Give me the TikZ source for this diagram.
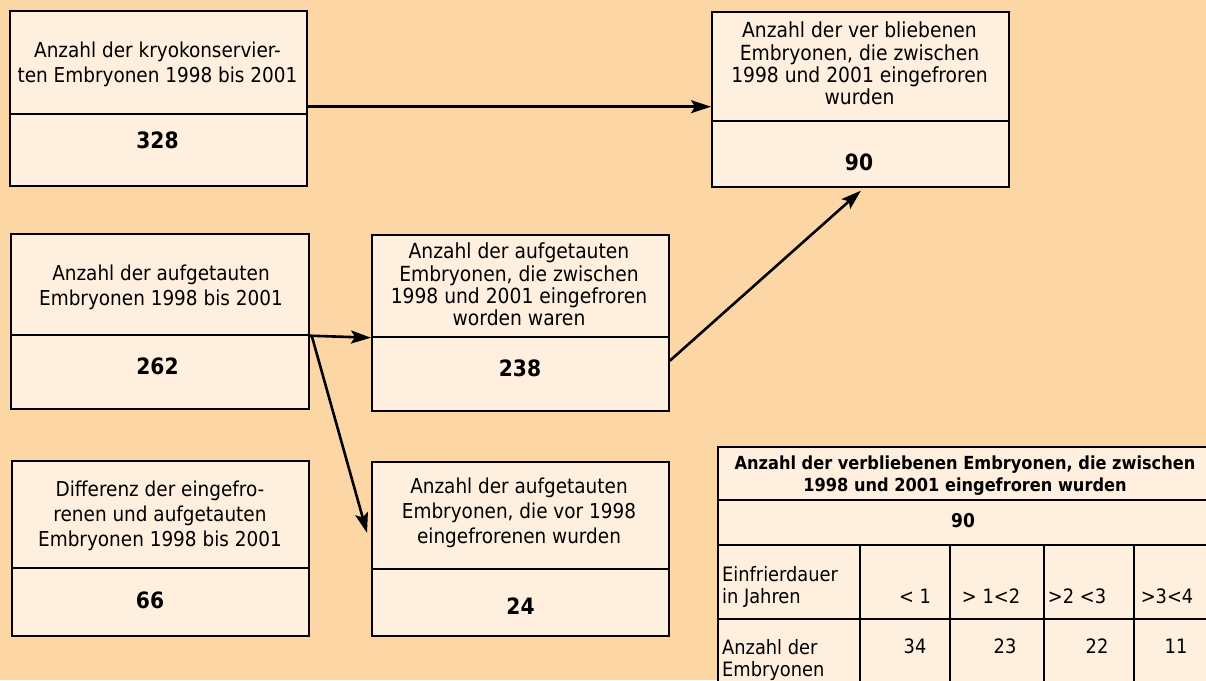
\documentclass[tikz,border=0pt]{standalone}
\usepackage{fontspec}
\setmainfont{DejaVu Sans Condensed}
\usetikzlibrary{arrows.meta,calc}
\definecolor{bgpeach}{RGB}{252,214,165}
\definecolor{boxfill}{RGB}{255,239,222}
\begin{document}
\begin{tikzpicture}[x=1pt,y=-1pt,
  boxpart/.style={draw=black, line width=1.7pt, fill=boxfill, inner sep=0pt, anchor=north west},
  txt/.style={inner sep=0pt, align=center, font=\fontsize{20.5}{25}\selectfont},
  txtf/.style={inner sep=0pt, align=center, font=\fontsize{20.8}{22.3}\selectfont},
  num/.style={inner sep=0pt, font=\bfseries\fontsize{22.5}{24}\selectfont},
  cell/.style={draw=black, line width=1.7pt, fill=boxfill, inner sep=0pt, anchor=north west},
  ctxt/.style={inner sep=0pt, font=\fontsize{19.8}{21.5}\selectfont},
  conn/.style={draw=black, line width=2.6pt, -{Stealth[length=20pt,width=13pt,inset=4pt]}}]
\useasboundingbox (0,0) rectangle (1206,680);
\fill[bgpeach] (0,0) rectangle (1206,680);
\clip (0,0) rectangle (1206,680);

% box 1
\node[boxpart, minimum width=297pt, minimum height=103pt] (b1top) at (9,10) {};
\node[boxpart, minimum width=297pt, minimum height=72pt] (b1bot) at (9,113) {};
\node[txt] (t1) at (157.5,64.1) {Anzahl der kryokonservier-\\ten Embryonen 1998 bis 2001};
\node[num] (n1) at (157.5,140.5) {328};

% box 2
\node[boxpart, minimum width=297pt, minimum height=109pt] (b2top) at (711,11) {};
\node[boxpart, minimum width=297pt, minimum height=66pt] (b2bot) at (711,120) {};
\node[txtf] (t2) at (859.5,63.5) {Anzahl der ver bliebenen\\Embryonen, die zwischen\\1998 und 2001 eingefroren\\wurden};
\node[num] (n2) at (859,162) {90};

% box 3
\node[boxpart, minimum width=298pt, minimum height=101pt] (b3top) at (10,233) {};
\node[boxpart, minimum width=298pt, minimum height=74pt] (b3bot) at (10,334) {};
\node[txt] (t3) at (161,287.1) {Anzahl der aufgetauten\\Embryonen 1998 bis 2001};
\node[num] (n3) at (157.5,366) {262};

% box 4
\node[boxpart, minimum width=297pt, minimum height=102pt] (b4top) at (371,234) {};
\node[boxpart, minimum width=297pt, minimum height=74pt] (b4bot) at (371,336) {};
\node[txtf] (t4) at (519,284.5) {Anzahl der aufgetauten\\Embryonen, die zwischen\\1998 und 2001 eingefroren\\worden waren};
\node[num] (n4) at (520,368) {238};

% box 5
\node[boxpart, minimum width=297pt, minimum height=107pt] (b5top) at (11,460) {};
\node[boxpart, minimum width=297pt, minimum height=68pt] (b5bot) at (11,567) {};
\node[txt] (t5) at (160,515.6) {Differenz der eingefro-\\renen und aufgetauten\\Embryonen 1998 bis 2001};
\node[num] (n5) at (150,600) {66};

% box 6
\node[boxpart, minimum width=297pt, minimum height=107pt] (b6top) at (371,461) {};
\node[boxpart, minimum width=297pt, minimum height=67pt] (b6bot) at (371,568) {};
\node[txt] (t6) at (519,513.1) {Anzahl der aufgetauten\\Embryonen, die vor 1998\\eingefrorenen wurden};
\node[num] (n6) at (520.5,606) {24};

% table
\node[cell, minimum width=500pt, minimum height=53pt] (thead) at (717,446) {};
\node[cell, minimum width=500pt, minimum height=45pt] (tnum) at (717,499) {};
\node[cell, minimum width=142pt, minimum height=74pt] (c30) at (717,544) {};
\node[cell, minimum width=90pt, minimum height=74pt] (c31) at (859,544) {};
\node[cell, minimum width=94pt, minimum height=74pt] (c32) at (949,544) {};
\node[cell, minimum width=90pt, minimum height=74pt] (c33) at (1043,544) {};
\node[cell, minimum width=84pt, minimum height=74pt] (c34) at (1133,544) {};
\node[cell, minimum width=142pt, minimum height=76pt] (c40) at (717,618) {};
\node[cell, minimum width=90pt, minimum height=76pt] (c41) at (859,618) {};
\node[cell, minimum width=94pt, minimum height=76pt] (c42) at (949,618) {};
\node[cell, minimum width=90pt, minimum height=76pt] (c43) at (1043,618) {};
\node[cell, minimum width=84pt, minimum height=76pt] (c44) at (1133,618) {};

\node[inner sep=0pt, align=center, font=\bfseries\fontsize{18}{22}\selectfont] (th) at (965,475.3) {Anzahl der verbliebenen Embryonen, die zwischen\\1998 und 2001 eingefroren wurden};
\node[inner sep=0pt, font=\bfseries\fontsize{19}{22}\selectfont] (tn) at (963,521) {90};
\node[ctxt, align=left, anchor=west] (r3l) at (722,587) {Einfrierdauer\\in Jahren};
\node[ctxt, anchor=base] (v31) at (915,603) {< 1};
\node[ctxt, anchor=base] (v32) at (991,603) {> 1<2};
\node[ctxt, anchor=base] (v33) at (1077,603) {>2 <3};
\node[ctxt, anchor=base] (v34) at (1167,603) {>3<4};
\node[ctxt, align=left, anchor=west] (r4l) at (722,660) {Anzahl der\\Embryonen};
\node[ctxt, anchor=base] (v41) at (915,653) {34};
\node[ctxt, anchor=base] (v42) at (1005,653) {23};
\node[ctxt, anchor=base] (v43) at (1097,653) {22};
\node[ctxt, anchor=base] (v44) at (1176,653) {11};

% connectors
\draw[conn] ($(b1top.south east)+(0,-8)$) -- ($(b2top.south west)+(0,-15)$);
\draw[conn] (b3top.south east) -- (b4top.south west);
\draw[conn] ($(b3top.south east)+(2,0)$) -- ($(b6top.west)+(-4,17.5)$);
\draw[conn] ($(b4bot.east)+(0,-13)$) -- ($(b2bot.south)+(0.5,3)$);
\end{tikzpicture}
\end{document}
